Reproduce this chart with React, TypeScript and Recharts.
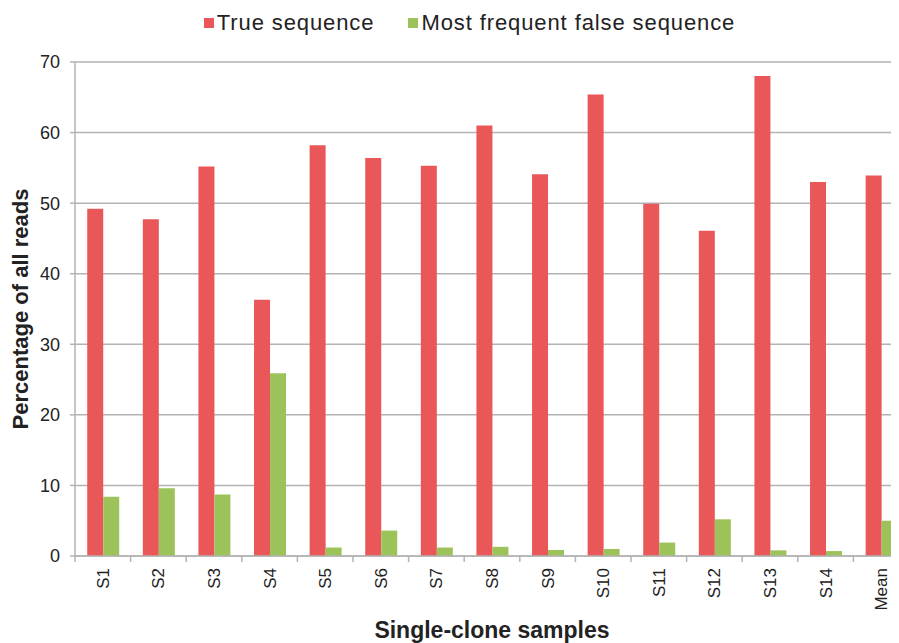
import React from 'react';
import {BarChart, Bar, XAxis, YAxis, CartesianGrid, Legend, Label} from 'recharts';

const samples: string[] = ['S1', 'S2', 'S3', 'S4', 'S5', 'S6', 'S7', 'S8', 'S9', 'S10', 'S11', 'S12', 'S13', 'S14', 'Mean'];
const trueSeq: number[] = [49.2, 47.7, 55.2, 36.3, 58.2, 56.4, 55.3, 61.0, 54.1, 65.4, 49.9, 46.1, 68.0, 53.0, 53.9];
const falseSeq: number[] = [8.4, 9.6, 8.7, 25.9, 1.2, 3.6, 1.2, 1.3, 0.85, 1.0, 1.9, 5.2, 0.8, 0.7, 5.0];
const yTicks: number[] = [0, 10, 20, 30, 40, 50, 60, 70];

const RED = '#ea5759';
const GREEN = '#9cc35a';
const GRID = '#b3b3b3';
const FONT = '"Liberation Sans", Arial, sans-serif';

const data = samples.map((s, i) => ({name: s, t: trueSeq[i], f: falseSeq[i]}));

// rotated category label plus a tick mark at the left edge of each band
function XTick(props: any) {
    const {x, y, payload} = props;
    const band = 834 / 15;
    return (
        <g>
            <line x1={x - band / 2} x2={x - band / 2} y1={y - 8} y2={y - 2} stroke={GRID} strokeWidth={1.5} />
            <text
                x={x}
                y={y + 4}
                transform={`rotate(-90, ${x}, ${y + 4})`}
                textAnchor="end"
                dy="0.35em"
                fontSize={17}
                fontFamily={FONT}
                fill="#222"
            >
                {payload.value}
            </text>
        </g>
    );
}

function LegendBox() {
    const items = [
        {label: 'True sequence', color: RED},
        {label: 'Most frequent false sequence', color: GREEN},
    ];
    return (
        <div style={{display: 'flex', justifyContent: 'center', gap: 34, paddingLeft: 18, fontFamily: FONT, fontSize: 22, letterSpacing: 0.9, color: '#222'}}>
            {items.map((it) => (
                <div key={it.label} style={{display: 'flex', alignItems: 'center'}}>
                    <span style={{width: 10, height: 10, background: it.color, marginRight: 3, display: 'inline-block'}} />
                    <span>{it.label}</span>
                </div>
            ))}
        </div>
    );
}

function App() {
    return (
        <div style={{width: 891, height: 635, overflow: 'hidden'}}>
            <BarChart
                width={905}
                height={650}
                data={data}
                margin={{top: 28, right: 4, bottom: 12, left: 7}}
                barGap={0}
                barCategoryGap="22%"
            >
                <CartesianGrid vertical={false} stroke={GRID} strokeWidth={1.5} />
                <Legend verticalAlign="top" content={<LegendBox />} wrapperStyle={{top: 2, left: 0, width: 905}} />
                <XAxis
                    dataKey="name"
                    height={90}
                    stroke={GRID}
                    strokeWidth={1.5}
                    tickLine={false}
                    interval={0}
                    tick={<XTick />}
                >
                    <Label
                        content={(p: any) => {
                            const vb = p.viewBox;
                            return (
                                <text x={vb.x + vb.width / 2} y={vb.y + 82} textAnchor="middle" fontSize={23} fontWeight="bold" fontFamily={FONT} fill="#222">
                                    Single-clone samples
                                </text>
                            );
                        }}
                    />
                </XAxis>
                <YAxis
                    width={60}
                    domain={[0, 70]}
                    ticks={yTicks}
                    interval={0}
                    stroke={GRID}
                    strokeWidth={1.5}
                    tickSize={5}
                    tickMargin={10}
                    tick={{fontSize: 18, fontFamily: FONT, fill: '#222'}}
                >
                    <Label
                        content={(p: any) => {
                            const vb = p.viewBox;
                            const cx = 12;
                            const cy = vb.y + vb.height / 2;
                            return (
                                <text x={cx} y={cy} transform={`rotate(-90, ${cx}, ${cy})`} textAnchor="middle" dy="0.35em" fontSize={22} fontWeight="bold" fontFamily={FONT} fill="#222">
                                    Percentage of all reads
                                </text>
                            );
                        }}
                    />
                </YAxis>
                <Bar dataKey="t" name="True sequence" fill={RED} isAnimationActive={false} />
                <Bar dataKey="f" name="Most frequent false sequence" fill={GREEN} isAnimationActive={false} />
            </BarChart>
        </div>
    );
}

export default App;
